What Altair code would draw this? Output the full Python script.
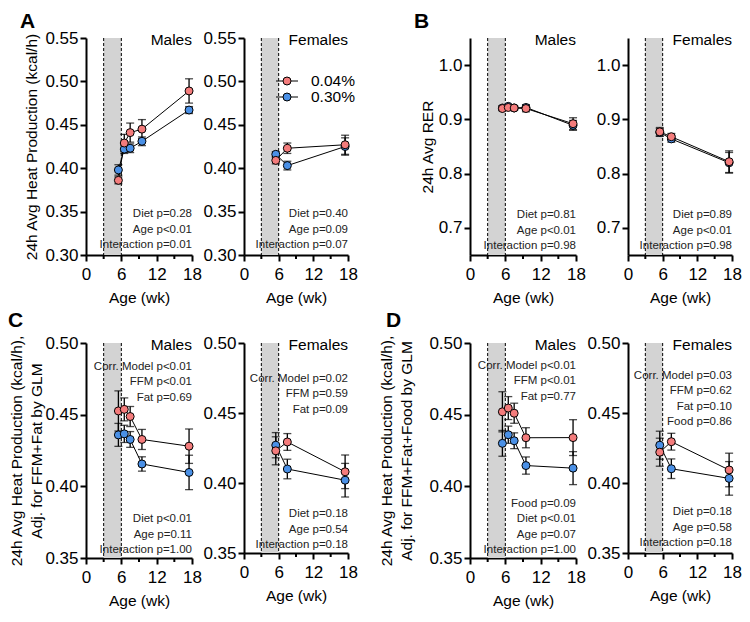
import altair as alt
import pandas as pd

FONT = "Liberation Sans"

# ---------------- data ----------------
AGE_M = [5.5, 6.5, 7.5, 9.5, 17.5]
AGE_F = [5.5, 7.5, 17.5]
DIETS = ["0.04%", "0.30%"]
COLORS = ["#F47C7C", "#4A90E6"]
WINDOW = [3, 6]
X_TICKS = [0, 6, 12, 18]
X_MINOR = [3, 9, 15]

# A: 24h avg heat production (kcal/h)
A_M_LO = [0.386, 0.429, 0.441, 0.445, 0.489]
A_M_LO_SEM = [0.004, 0.010, 0.011, 0.011, 0.014]
A_M_HI = [0.398, 0.422, 0.423, 0.431, 0.467]
A_M_HI_SEM = [0.006, 0.005, 0.005, 0.005, 0.004]
A_F_LO = [0.409, 0.423, 0.427]
A_F_LO_SEM = [0.004, 0.006, 0.011]
A_F_HI = [0.416, 0.403, 0.425]
A_F_HI_SEM = [0.003, 0.005, 0.010]

# B: 24h avg RER
B_M_LO = [0.920, 0.922, 0.921, 0.920, 0.892]
B_M_LO_SEM = [0.004, 0.003, 0.003, 0.006, 0.011]
B_M_HI = [0.921, 0.924, 0.921, 0.922, 0.889]
B_M_HI_SEM = [0.004, 0.003, 0.004, 0.005, 0.009]
B_F_LO = [0.877, 0.868, 0.822]
B_F_LO_SEM = [0.008, 0.006, 0.020]
B_F_HI = [0.876, 0.864, 0.820]
B_F_HI_SEM = [0.007, 0.006, 0.019]

# C: adjusted for FFM+Fat
C_M_LO = [0.4526, 0.4537, 0.4487, 0.4327, 0.428]
C_M_LO_SEM = [0.014, 0.008, 0.007, 0.007, 0.012]
C_M_HI = [0.4359, 0.4366, 0.4327, 0.4156, 0.4097]
C_M_HI_SEM = [0.008, 0.006, 0.0055, 0.005, 0.012]
C_F_LO = [0.423, 0.4293, 0.408]
C_F_LO_SEM = [0.010, 0.006, 0.012]
C_F_HI = [0.427, 0.410, 0.402]
C_F_HI_SEM = [0.009, 0.007, 0.012]

# D: adjusted for FFM+Fat+Food
D_M_LO = [0.452, 0.4546, 0.451, 0.4339, 0.434]
D_M_LO_SEM = [0.014, 0.008, 0.007, 0.007, 0.0125]
D_M_HI = [0.430, 0.436, 0.4318, 0.4145, 0.4127]
D_M_HI_SEM = [0.009, 0.006, 0.0055, 0.006, 0.0115]
D_F_LO = [0.422, 0.4295, 0.4093]
D_F_LO_SEM = [0.010, 0.006, 0.012]
D_F_HI = [0.427, 0.4102, 0.4033]
D_F_HI_SEM = [0.010, 0.007, 0.012]

A_M_TXT = ["Diet p=0.28", "Age p<0.01", "Interaction p=0.01"]
A_F_TXT = ["Diet p=0.40", "Age p=0.09", "Interaction p=0.07"]
B_M_TXT = ["Diet p=0.81", "Age p<0.01", "Interaction p=0.98"]
B_F_TXT = ["Diet p=0.89", "Age p<0.01", "Interaction p=0.98"]
C_M_TOP = ["Corr. Model p<0.01", "FFM p<0.01", "Fat p=0.69"]
C_M_TXT = ["Diet p<0.01", "Age p=0.11", "Interaction p=1.00"]
C_F_TOP = ["Corr. Model p=0.02", "FFM p=0.59", "Fat p=0.09"]
C_F_TXT = ["Diet p=0.18", "Age p=0.54", "Interaction p=0.18"]
D_M_TOP = ["Corr. Model p<0.01", "FFM p<0.01", "Fat p=0.77"]
D_M_TXT = ["Food p=0.09", "Diet p<0.01", "Age p=0.07", "Interaction p=1.00"]
D_F_TOP = ["Corr. Model p=0.03", "FFM p=0.62", "Fat p=0.10", "Food p=0.86"]
D_F_TXT = ["Diet p=0.18", "Age p=0.58", "Interaction p=0.18"]

TITLE_A = "24h Avg Heat Production (kcal/h)"
TITLE_B = "24h Avg RER"
TITLE_C = ["24h Avg Heat Production  (kcal/h),", "Adj. for FFM+Fat by GLM"]
TITLE_D = ["24h Avg Heat Production (kcal/h),", "Adj. for FFM+Fat+Food by GLM"]

LH = 15.4  # line height of the p-value blocks


def make_df(ages, lo, lo_sem, hi, hi_sem):
    rows = []
    for diet, vals, sems in [(DIETS[1], hi, hi_sem), (DIETS[0], lo, lo_sem)]:
        for a, v, s in zip(ages, vals, sems):
            rows.append({"age": a, "val": v, "lo": v - s, "hi": v + s, "diet": diet})
    return pd.DataFrame(rows)


def one(text):
    return pd.DataFrame({"t": [text]})


def panel(df, W, H, ydom, yticks, yfmt, ytitle, sex, bottom, bottom_c,
          top=None, top_y=0, letter=None, title_pad=5, legend=False, spacer=None):
    xs = alt.Scale(domain=[0, 18], nice=False, zero=False)
    xaxis = alt.Axis(values=X_TICKS, title="Age (wk)", labelFlush=False,
                     titlePadding=8, labelPadding=5, format="d")
    ys = alt.Scale(domain=ydom, nice=False, zero=False)
    if ytitle is None:
        yaxis = alt.Axis(values=yticks, format=yfmt, title=None, labelPadding=2)
    else:
        yaxis = alt.Axis(values=yticks, format=yfmt, title=ytitle,
                         titlePadding=title_pad, labelPadding=2, titleLineHeight=20)

    def X(f):
        return alt.X(f"{f}:Q", scale=xs, axis=xaxis)

    def Y(f):
        return alt.Y(f"{f}:Q", scale=ys, axis=yaxis)

    layers = []
    band = alt.Chart(pd.DataFrame({"start": [WINDOW[0]], "end": [WINDOW[1]]})).mark_rect(
        color="#D3D3D3").encode(x=X("start"), x2="end", y=alt.value(0), y2=alt.value(H))
    layers.append(band)
    dash = alt.Chart(pd.DataFrame({"w": WINDOW})).mark_rule(
        color="black", strokeWidth=1, strokeDash=[3, 2]).encode(
        x=X("w"), y=alt.value(0), y2=alt.value(H))
    layers.append(dash)
    minor = alt.Chart(pd.DataFrame({"m": X_MINOR})).mark_rule(
        color="black", strokeWidth=2).encode(x=X("m"), y=alt.value(H), y2=alt.value(H + 4))
    layers.append(minor)

    if top:
        layers.append(alt.Chart(one("\n".join(top))).mark_text(
            align="right", baseline="top", lineBreak="\n", lineHeight=LH,
            fontSize=11.5, font=FONT, color="#222").encode(
            x=alt.value(W), y=alt.value(top_y), text="t:N"))
    y_first = H - bottom_c - (len(bottom) - 1) * LH - 5
    layers.append(alt.Chart(one("\n".join(bottom))).mark_text(
        align="right", baseline="top", lineBreak="\n", lineHeight=LH,
        fontSize=11.5, font=FONT, color="#222").encode(
        x=alt.value(W), y=alt.value(y_first), text="t:N"))

    layers.append(alt.Chart(df).mark_line(color="black", strokeWidth=1).encode(
        x=X("age"), y=Y("val"), detail="diet:N"))
    layers.append(alt.Chart(df).mark_rule(color="black", strokeWidth=1.3).encode(
        x=X("age"), y=Y("lo"), y2="hi"))
    for f in ["lo", "hi"]:
        layers.append(alt.Chart(df).mark_tick(
            orient="horizontal", size=8, thickness=1.3, color="black").encode(
            x=X("age"), y=Y(f)))
    layers.append(alt.Chart(df).mark_circle(
        size=64, stroke="black", strokeWidth=1, opacity=1).encode(
        x=X("age"), y=Y("val"),
        fill=alt.Fill("diet:N", scale=alt.Scale(domain=DIETS, range=COLORS), legend=None)))

    layers.append(alt.Chart(one(sex)).mark_text(
        align="right", baseline="middle", fontSize=15.5, font=FONT, color="black").encode(
        x=alt.value(W), y=alt.value(2), text="t:N"))

    if letter:
        lt, lx, ly = letter
        layers.append(alt.Chart(one(lt)).mark_text(
            align="left", baseline="alphabetic", fontSize=21, fontWeight="bold",
            font=FONT, color="black").encode(x=alt.value(lx), y=alt.value(ly), text="t:N"))

    if legend:
        for i, (lab, col) in enumerate(zip(DIETS, COLORS)):
            yy = 43 + 16 * i
            layers.append(alt.Chart(one(lab)).mark_rule(color="black", strokeWidth=1).encode(
                x=alt.value(32), x2=alt.value(54), y=alt.value(yy)))
            layers.append(alt.Chart(one(lab)).mark_circle(
                size=64, stroke="black", strokeWidth=1, opacity=1, color=col).encode(
                x=alt.value(43), y=alt.value(yy)))
            layers.append(alt.Chart(one(lab)).mark_text(
                align="left", baseline="middle", fontSize=15.5, font=FONT, color="black").encode(
                x=alt.value(67), y=alt.value(yy), text="t:N"))

    if spacer is not None:
        layers.append(alt.Chart(one("")).mark_rule(opacity=0).encode(
            x=alt.value(spacer), x2=alt.value(spacer + 2), y=alt.value(50)))

    return alt.layer(*layers).properties(width=W, height=H)


WM, WF = 106, 104
H1, H2M, H2F = 217, 215, 210

A_TICKS = [0.30, 0.35, 0.40, 0.45, 0.50, 0.55]
B_TICKS = [0.7, 0.8, 0.9, 1.0]
C_TICKS = [0.35, 0.40, 0.45, 0.50]

a_m = panel(make_df(AGE_M, A_M_LO, A_M_LO_SEM, A_M_HI, A_M_HI_SEM), WM, H1,
            [0.30, 0.55], A_TICKS, ".2f", TITLE_A, "Males", A_M_TXT, 11,
            letter=("A", -66, -10))
a_f = panel(make_df(AGE_F, A_F_LO, A_F_LO_SEM, A_F_HI, A_F_HI_SEM), WF, H1,
            [0.30, 0.55], A_TICKS, ".2f", None, "Females", A_F_TXT, 11, legend=True)
b_m = panel(make_df(AGE_M, B_M_LO, B_M_LO_SEM, B_M_HI, B_M_HI_SEM), WM, H1,
            [0.65, 1.05], B_TICKS, ".1f", TITLE_B, "Males", B_M_TXT, 10,
            letter=("B", -56, -10), title_pad=3)
b_f = panel(make_df(AGE_F, B_F_LO, B_F_LO_SEM, B_F_HI, B_F_HI_SEM), WF, H1,
            [0.65, 1.05], B_TICKS, ".1f", None, "Females", B_F_TXT, 10)
c_m = panel(make_df(AGE_M, C_M_LO, C_M_LO_SEM, C_M_HI, C_M_HI_SEM), WM, H2M,
            [0.35, 0.50], C_TICKS, ".2f", TITLE_C, "Males", C_M_TXT, 9,
            top=C_M_TOP, top_y=18, letter=("C", -78, -16), title_pad=0)
c_f = panel(make_df(AGE_F, C_F_LO, C_F_LO_SEM, C_F_HI, C_F_HI_SEM), WF, H2F,
            [0.35, 0.50], C_TICKS, ".2f", None, "Females", C_F_TXT, 9,
            top=C_F_TOP, top_y=30)
d_m = panel(make_df(AGE_M, D_M_LO, D_M_LO_SEM, D_M_HI, D_M_HI_SEM), WM, H2M,
            [0.35, 0.50], C_TICKS, ".2f", TITLE_D, "Males", D_M_TXT, 9,
            top=D_M_TOP, top_y=17, letter=("D", -84, -16), title_pad=14, spacer=-112)
d_f = panel(make_df(AGE_F, D_F_LO, D_F_LO_SEM, D_F_HI, D_F_HI_SEM), WF, H2F,
            [0.35, 0.50], C_TICKS, ".2f", None, "Females", D_F_TXT, 11,
            top=D_F_TOP, top_y=27)

chart = alt.concat(a_m, a_f, b_m, b_f, c_m, c_f, d_m, d_f, columns=4,
                   spacing={"row": 4, "column": 0}).properties(
    padding={"left": 0, "top": 3, "right": 0, "bottom": 0}
).configure_view(strokeWidth=0).configure_axis(
    domainColor="black", domainWidth=2, tickColor="black", tickWidth=2, tickSize=6,
    labelColor="black", labelFont=FONT, labelFontSize=17, titleFont=FONT,
    titleFontSize=15.5, titleFontWeight="normal", titleColor="black", grid=False
)

chart.save("out.html", embed_options={"renderer": "svg", "actions": False})
